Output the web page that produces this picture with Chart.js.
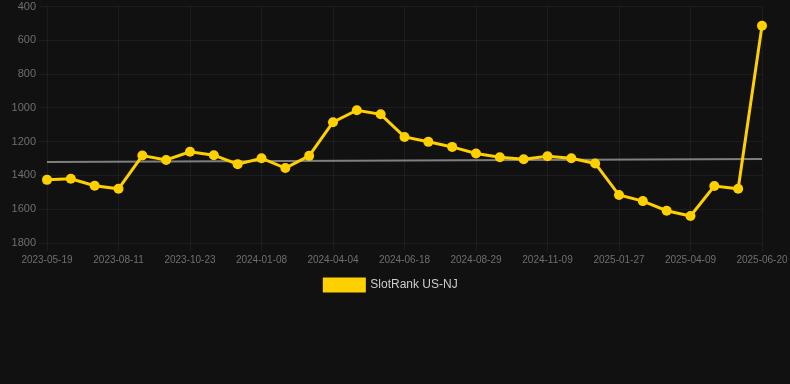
<!DOCTYPE html>
<html>
<head>
<meta charset="utf-8">
<script src="https://cdn.jsdelivr.net/npm/chart.js@4/dist/chart.umd.min.js"></script>
<style>
  html, body { margin: 0; padding: 0; background: #111111; }
  #wrap { width: 790px; height: 384px; position: relative; }
</style>
</head>
<body>
<div id="wrap"><canvas id="c"></canvas></div>
<script>
const dates = [
  "2023-05-19","2023-06-17","2023-07-15","2023-08-11","2023-09-04","2023-09-28",
  "2023-10-23","2023-11-18","2023-12-13","2024-01-08","2024-02-05","2024-03-06",
  "2024-04-04","2024-04-29","2024-05-24","2024-06-18","2024-07-12","2024-08-05",
  "2024-08-29","2024-09-22","2024-10-16","2024-11-09","2024-12-06","2025-01-01",
  "2025-01-27","2025-02-20","2025-03-16","2025-04-09","2025-05-03","2025-05-27",
  "2025-06-20"
];
const rankValues = [
  1426, 1420, 1461, 1479, 1282, 1308, 1260, 1280, 1333, 1298, 1356,
  1284, 1085, 1014, 1038, 1172, 1201, 1231, 1270, 1292, 1304, 1286,
  1298, 1329, 1516, 1552, 1609, 1640, 1463, 1479, 514
];
const trendStart = 1321;
const trendEnd = 1303;
const yTicks = [400, 600, 800, 1000, 1200, 1400, 1600, 1800];

const trendValues = dates.map((d, i) => i === 0 ? trendStart : (i === dates.length - 1 ? trendEnd : null));

Chart.defaults.font.family = "'Liberation Sans', Arial, sans-serif";

new Chart(document.getElementById('c'), {
  type: 'line',
  data: {
    labels: dates,
    datasets: [
      {
        label: 'SlotRank US-NJ',
        data: rankValues,
        borderColor: '#FFD000',
        backgroundColor: '#FFD000',
        pointBackgroundColor: '#FFD000',
        pointBorderColor: '#FFD000',
        borderWidth: 3,
        pointRadius: 5,
        pointBorderWidth: 0,
        pointHoverRadius: 5,
        tension: 0,
        order: 1
      },
      {
        label: 'trend',
        data: trendValues,
        borderColor: 'rgba(140,140,140,0.9)',
        backgroundColor: 'rgba(140,140,140,0.9)',
        borderWidth: 2,
        pointRadius: 0,
        spanGaps: true,
        tension: 0,
        order: 2
      }
    ]
  },
  options: {
    responsive: true,
    maintainAspectRatio: false,
    animation: false,
    layout: { padding: { left: 0, right: 8, top: 0, bottom: 83 } },
    plugins: {
      legend: {
        position: 'bottom',
        labels: {
          color: '#cccccc',
          font: { size: 12 },
          boxWidth: 40,
          boxHeight: 12,
          filter: (item) => item.text !== 'trend'
        }
      },
      tooltip: { enabled: false }
    },
    scales: {
      x: {
        grid: { color: 'rgba(255,255,255,0.05)' },
        border: { display: false },
        afterFit: (s) => { s.paddingRight = 28; },
        ticks: {
          color: '#6f6f6f',
          font: { size: 10 },
          autoSkip: false,
          maxRotation: 0,
          callback: function(v, i) { return i % 3 === 0 ? this.getLabelForValue(v) : null; }
        }
      },
      y: {
        reverse: true,
        min: yTicks[0],
        max: yTicks[yTicks.length - 1],
        grid: { color: 'rgba(255,255,255,0.05)' },
        border: { display: false },
        afterFit: (s) => { s.width = 47; },
        afterBuildTicks: (axis) => { axis.ticks = yTicks.map(v => ({ value: v })); },
        ticks: { color: '#6f6f6f', font: { size: 11, lineHeight: 0.65 }, callback: (v) => String(v) }
      }
    }
  }
});
</script>
</body>
</html>
